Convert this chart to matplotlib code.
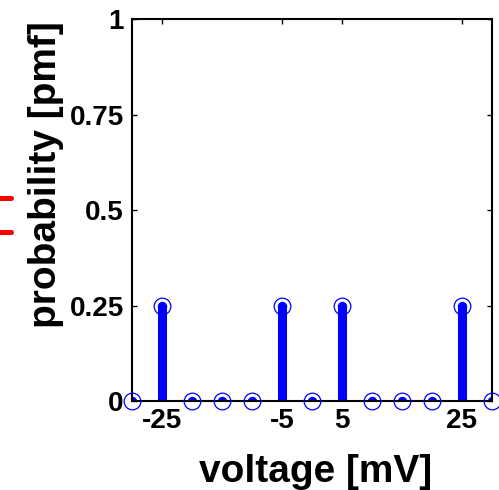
import numpy as np
import matplotlib
matplotlib.use('Agg')
import matplotlib.pyplot as plt
from matplotlib.lines import Line2D

plt.rcParams['font.family'] = ['Liberation Sans', 'DejaVu Sans']
plt.rcParams['font.weight'] = 'bold'

# pmf of the quantised voltage
voltage = [-30, -25, -20, -15, -10, -5, 0, 5, 10, 15, 20, 25, 30]
pmf = [0, 0.25, 0, 0, 0, 0.25, 0, 0.25, 0, 0, 0, 0.25, 0]

xticks = [-25, -5, 5, 25]
yticks = [0, 0.25, 0.5, 0.75, 1]
ytick_labels = ['0', '0.25', '0.5', '0.75', '1']

fig = plt.figure(figsize=(4.99, 4.90), dpi=100)
ax = fig.add_axes([0.2645, 0.1816, 0.7214, 0.7796])

markerline, stemlines, baseline = ax.stem(voltage, pmf, linefmt='b-', markerfmt='bo', basefmt='k-')
stemlines.set_linewidth(6.5)
baseline.set_visible(False)
markerline.set_markerfacecolor('none')
markerline.set_markersize(12)
markerline.set_markeredgewidth(0.9)
markerline.set_clip_on(False)
markerline.set_zorder(3)

# round off the stem tops (clipped at the axis, so zero stems give half discs)
ax.plot(voltage, pmf, 'o', color='b', ms=6.8, mew=0, zorder=2.1)

ax.set_xlim(-30, 30)
ax.set_ylim(0, 1)
ax.set_xticks(xticks)
ax.set_xticklabels([str(t) for t in xticks])
ax.set_yticks(yticks)
ax.set_yticklabels(ytick_labels)

for s in ax.spines.values():
    s.set_linewidth(1.5)
ax.tick_params(direction='in', length=3.6, width=1, top=True, right=True, labelsize=20)
ax.tick_params(axis='x', pad=5)
ax.tick_params(axis='y', pad=6)

ax.set_xlabel('voltage [mV]', fontsize=28, fontweight='bold')
ax.set_ylabel('probability [pmf]', fontsize=28, fontweight='bold')
ax.xaxis.set_label_coords(0.51, -0.14)
ax.yaxis.set_label_coords(-0.19, 0.593)

# red marks at the left margin
for yf in [0.596, 0.527]:
    fig.add_artist(Line2D([-0.02, 0.023], [yf, yf], color='red', lw=3.6,
                          solid_capstyle='round', transform=fig.transFigure))

fig.savefig('out.png', dpi=100)
